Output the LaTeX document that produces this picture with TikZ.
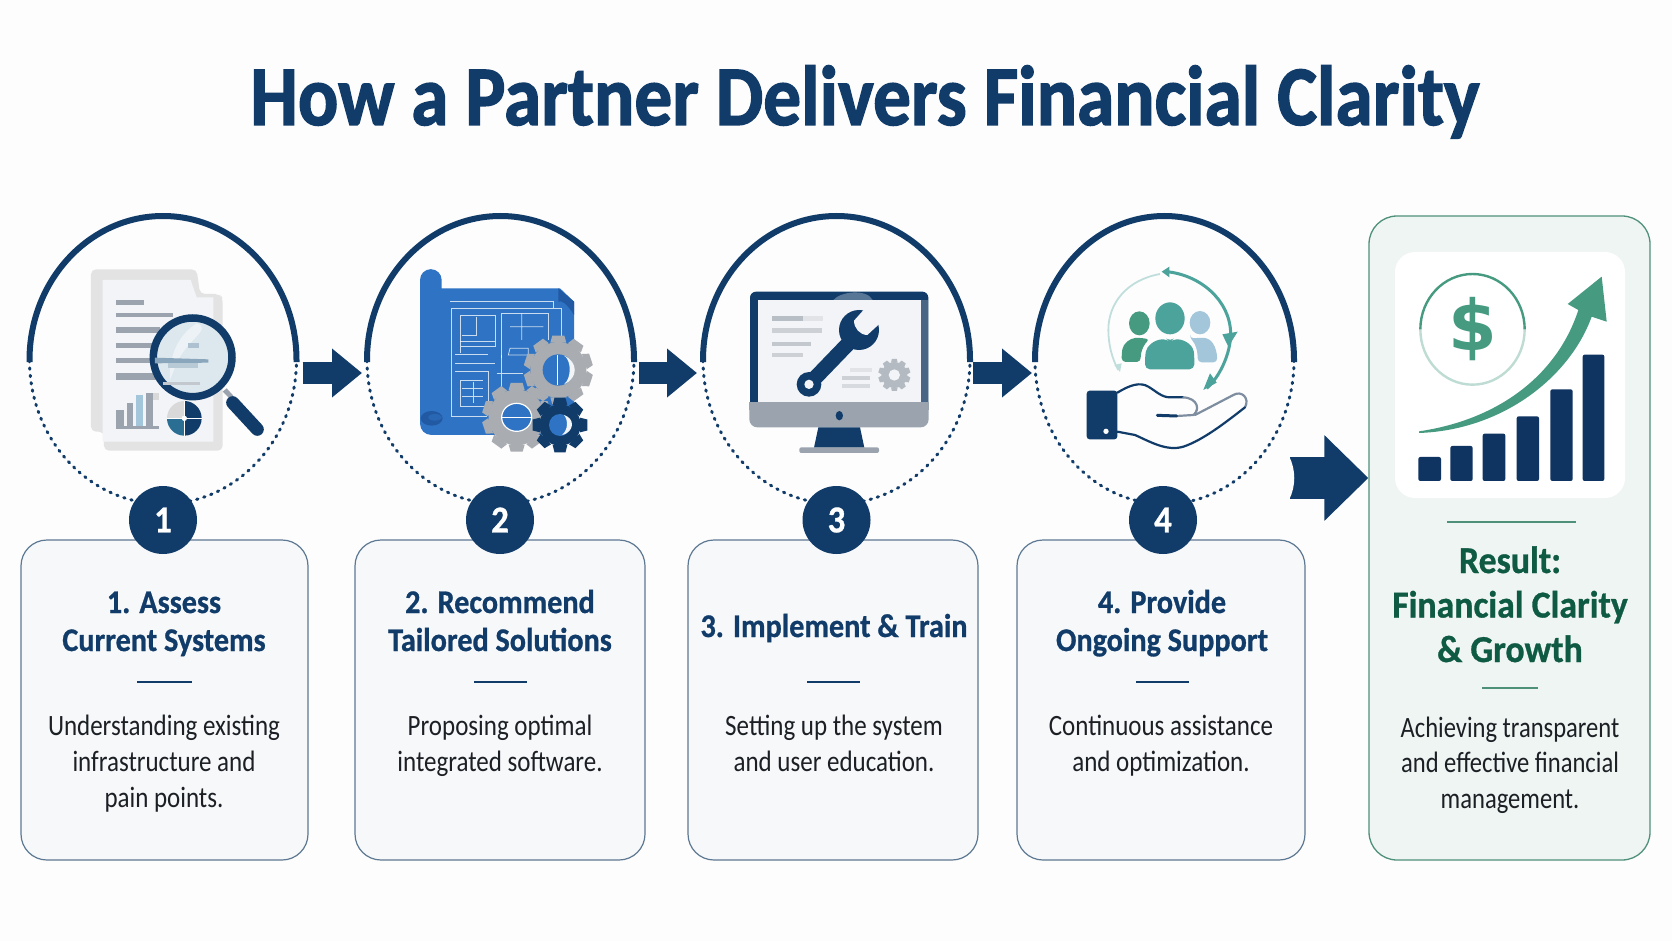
\documentclass[tikz,border=0pt]{standalone}
\usepackage{fontspec}
\usetikzlibrary{arrows.meta,shapes.geometric}
\newfontfamily\titlefont[FakeStretch=0.885,FakeBold=1.6]{Carlito}
\newfontfamily\headfont[FakeStretch=0.915,FakeBold=0.8]{Carlito}
\newfontfamily\resheadfont[FakeStretch=0.94,FakeBold=0.8]{Carlito}
\newfontfamily\bodyfont[FakeStretch=0.847]{Carlito}
\newfontfamily\resbodyfont[FakeStretch=0.833]{Carlito}
\newfontfamily\dollarfont{DejaVu Sans}
\definecolor{navy}{HTML}{113C69}
\definecolor{barnavy}{HTML}{0F3461}
\definecolor{ink}{HTML}{1C1F24}
\definecolor{pagebg}{HTML}{FDFDFD}
\definecolor{cardfill}{HTML}{F6F8FA}
\definecolor{cardline}{HTML}{5D7892}
\definecolor{resfill}{HTML}{EFF5F3}
\definecolor{resline}{HTML}{4F9079}
\definecolor{resdark}{HTML}{0F5A43}
\definecolor{mint}{HTML}{459A80}
\definecolor{teal}{HTML}{4BA39B}
\definecolor{print}{HTML}{2F74C4}
\definecolor{printdk}{HTML}{2259A3}
\definecolor{steel}{HTML}{A9ADB2}
\definecolor{paper}{HTML}{F2F4F7}
\definecolor{linegray}{HTML}{9AA3AE}
\definecolor{lensfill}{HTML}{DDE8EE}
\definecolor{lensline}{HTML}{8AA6BD}
\definecolor{paleblue}{HTML}{A3C6DA}
\definecolor{piemid}{HTML}{2B6E94}
\tikzset{
  zm/.style={x=0.33333pt,y=-0.33333pt},
  ring/.style={ellipse,draw=navy,line width=3pt,line cap=round,dash pattern=on 1.4pt off 6pt,inner sep=0pt,outer sep=0pt,minimum height=288pt},
  solidarc/.style={draw=navy,line width=6pt},
  flow/.style={draw=navy,line width=22pt,-{Triangle[length=30pt,width=47pt]}},
  flowbig/.style={draw=navy,line width=42pt,-{Triangle[length=44pt,width=83pt]}},
  badge/.style={circle,fill=navy,text=white,minimum size=68pt,inner sep=0pt,font=\headfont\bfseries\fontsize{38}{38}\selectfont},
  card/.style={rectangle,rounded corners=26pt,draw=cardline,line width=1.2pt,fill=cardfill,inner sep=0pt,minimum height=320pt},
  rescard/.style={rectangle,rounded corners=28pt,draw=resline,line width=1.3pt,fill=resfill,inner sep=0pt},
  head/.style={anchor=base,align=center,text=navy,inner sep=0pt,font=\headfont\bfseries\fontsize{33}{38}\selectfont},
  body/.style={anchor=base,align=center,text=ink,inner sep=0pt,font=\bodyfont\fontsize{29.5}{36}\selectfont},
  resbody/.style={anchor=base,align=center,text=ink,inner sep=0pt,font=\resbodyfont\fontsize{29.5}{35.5}\selectfont},
  reshead/.style={anchor=base,align=center,text=resdark,inner sep=0pt,font=\resheadfont\bfseries\fontsize{38}{44.5}\selectfont},
  rule/.style={draw=navy,line width=2pt},
  plan/.style={draw=white,line width=0.7pt,opacity=0.75},
  hand/.style={draw=navy,line width=2.2pt,line cap=round,line join=round},
}
\newcommand\gearicon[7]{%
  \begin{scope}[shift={(#1,#2)}]
    \foreach \gi in {1,...,#5}{\fill[#7,rotate=\gi*360/#5] (-#6,-#4) -- (-#6*0.75,-#3) -- (#6*0.75,-#3) -- (#6,-#4) -- cycle;}
    \fill[#7] (0,0) circle[radius=#4+2];
  \end{scope}}
\begin{document}
\begin{tikzpicture}[x=1pt,y=-1pt]
\useasboundingbox (0,0) rectangle (1672,941);
\fill[pagebg] (0,0) rectangle (1672,941);

\node[anchor=base,text=navy,inner sep=0pt,font=\titlefont\bfseries\fontsize{85}{85}\selectfont] (title) at (865,125) {How a Partner Delivers Financial Clarity};

% rings
\node[ring,minimum width=267pt] (s1) at (163,360) {};
\node[ring,minimum width=267pt] (s2) at (500.5,360) {};
\node[ring,minimum width=267pt] (s3) at (836.5,360) {};
\node[ring,minimum width=259pt] (s4) at (1164.5,360) {};
\foreach \n/\rx in {s1/133.5,s2/133.5,s3/133.5,s4/129.5}{
  \draw[solidarc] ([yshift=-2pt]\n.east) -- (\n.east) arc[start angle=0,end angle=-180,x radius=\rx,y radius=144] -- ([yshift=-2pt]\n.west);
}

% cards
\node[card,minimum width=287pt] (c1) at (164.5,700) {};
\node[card,minimum width=290pt] (c2) at (500,700) {};
\node[card,minimum width=290pt] (c3) at (833,700) {};
\node[card,minimum width=288pt] (c4) at (1161,700) {};
\node[rescard,minimum width=281pt,minimum height=644pt] (res) at (1509.5,538) {};
\node[rectangle,rounded corners=20pt,fill=white,minimum width=230pt,minimum height=246pt,inner sep=0pt] (panel) at (1510,375) {};

% badges
\node[badge] (b1) at (163,520) {1};
\node[badge] (b2) at (500,520) {2};
\node[badge] (b3) at (836.5,520) {3};
\node[badge] (b4) at (1163,520) {4};

% arrows
\draw[flow] ([shift={(6,13)}]s1.east) -- ([shift={(-5,13)}]s2.west);
\draw[flow] ([shift={(4.5,13)}]s2.east) -- ([shift={(-6,13)}]s3.west);
\draw[flow] ([shift={(3,13)}]s3.east) -- ([shift={(-3,13)}]s4.west);
\coordinate (a4s) at (1290,478);
\draw[flowbig] (a4s) -- (res.west |- a4s);
\fill[pagebg] (1289,456) .. controls (1296,470) and (1296,486) .. (1289,500) -- cycle;

% card text
\node[head] (h1) at (164,651) {1. Assess\\Current Systems};
\draw[rule] (137,682) -- (192,682);
\node[body] (t1) at (164,807) {Understanding existing\\infrastructure and\\pain points.};
\node[head] (h2) at (500,651) {2. Recommend\\Tailored Solutions};
\draw[rule] (474,682) -- (527,682);
\node[body] (t2) at (500,771) {Proposing optimal\\integrated software.};
\node[head] (h3) at (834,637) {3. Implement \& Train};
\draw[rule] (807,682) -- (860,682);
\node[body] (t3) at (834,771) {Setting up the system\\and user education.};
\node[head] (h4) at (1162,651) {4. Provide\\Ongoing Support};
\draw[rule] (1136,682) -- (1189,682);
\node[body] (t4) at (1161,771) {Continuous assistance\\and optimization.};
\draw[draw=resline,line width=1.6pt] (1447,522) -- (1576,522);
\node[reshead] (h5) at (1510,662) {Result:\\Financial Clarity\\\& Growth};
\draw[draw=resline,line width=1.6pt] (1482,688) -- (1538,688);
\node[resbody] (t5) at (1510,808) {Achieving transparent\\and effective financial\\management.};

% ---- icon 1
\begin{scope}[shift={(0,200)},zm]
\fill[gray!22,rounded corners=5pt] (312,695) -- (273,695) -- (273,208) -- (590,208) -- (600,282) -- (660,282) -- (668,295) -- (668,752) -- (312,752) -- cycle;
\fill[paper] (308,240) -- (572,240) -- (590,292) -- (640,292) -- (640,725) -- (308,725) -- cycle;
\foreach \ya/\yb/\xb in {300/316/433,340/352/520,380/398/480,428/445/460,473/490/470,520/540/470}{\fill[linegray] (348,\ya) rectangle (\xb,\yb);}
\fill[linegray] (348,630) rectangle (372,680);
\fill[linegray] (380,610) rectangle (400,680);
\fill[paleblue] (408,585) rectangle (428,680);
\fill[linegray] (438,578) rectangle (458,680);
\fill[gray!30] (458,578) rectangle (478,600);
\fill[linegray] (348,678) rectangle (478,688);
\fill[gray!30] (553,655) -- (501,655) arc[start angle=180,end angle=270,radius=52] -- cycle;
\fill[navy] (553,655) -- (553,603) arc[start angle=-90,end angle=0,radius=52] -- cycle;
\fill[navy] (553,655) -- (605,655) arc[start angle=0,end angle=90,radius=52] -- cycle;
\fill[piemid] (553,655) -- (553,707) arc[start angle=90,end angle=180,radius=52] -- cycle;
\fill[white] (553,655) circle[radius=8];
\draw[white,line width=1pt] (501,655) -- (605,655) (553,603) -- (553,707);
\fill[linegray] (668,575) -- (690,597) -- (700,587) -- (680,565) -- cycle;
\draw[navy,line width=13pt,line cap=round] (698,608) -- (772,688);
\draw[navy,line width=7.5pt,fill=lensfill] (578,472) circle[radius=118];
\fill[white,opacity=.45] (510,540) .. controls (505,450) and (550,395) .. (590,370) .. controls (640,385) and (560,420) .. (530,490) -- cycle;
\fill[lensline] (465,473) -- (625,478) -- (625,488) -- (465,490) -- cycle;
\fill[lensline!70!white] (565,428) rectangle (597,443);
\fill[linegray!60!white] (490,545) rectangle (600,555);
\fill[lensline!60!white] (505,490) rectangle (595,505);
\end{scope}

% ---- icon 2
\begin{scope}[shift={(340,200)},zm]
\fill[print] (240,240) arc[start angle=180,end angle=360,radius=32.5] -- (305,265) -- (660,265) -- (702,305) -- (702,705) -- (275,705) .. controls (255,705) and (240,690) .. (240,670) -- cycle;
\fill[printdk] (655,265) -- (702,305) -- (702,345) .. controls (680,310) and (665,300) .. (655,305) -- cycle;
\fill[printdk] (275,655) ellipse[x radius=33,y radius=22];
\fill[print!50!printdk] (285,652) ellipse[x radius=20,y radius=10];
\draw[plan] (330,305) -- (640,305) -- (640,325) (335,325) -- (665,325) -- (665,440);
\draw[plan] (335,325) -- (335,650) -- (440,650);
\draw[plan] (360,345) rectangle (465,440);
\draw[plan] (410,350) -- (410,405) -- (365,405);
\draw[plan] (360,425) -- (465,425) (360,440) -- (360,460);
\draw[plan] (345,462) -- (445,462) (345,490) -- (465,490);
\draw[plan] (485,340) -- (485,475) (485,340) -- (625,340) -- (625,420);
\draw[plan] (510,380) -- (610,380) (545,340) -- (545,420) (505,465) -- (565,465) -- (565,445) -- (510,445) -- cycle;
\draw[plan] (345,515) -- (445,515) -- (445,620) -- (360,620) -- (360,540) -- (430,540);
\draw[plan] (365,565) -- (430,565) (365,590) -- (430,590) (400,545) -- (400,610);
\draw[plan] (485,465) -- (485,560) (470,520) -- (550,520);
\gearicon{655}{510}{103}{82}{10}{24}{steel}
\fill[print] (655,510) circle[radius=47];
\draw[white,line width=1.2pt] (653,465) -- (653,555);
\fill[paper] (672,467) .. controls (695,480) and (695,535) .. (672,553) .. controls (715,535) and (715,485) .. (672,467) -- cycle;
\gearicon{530}{652}{103}{82}{10}{24}{steel}
\fill[print] (530,652) ellipse[x radius=45,y radius=42];
\draw[white,line width=1.2pt] (530,652) ellipse[x radius=45,y radius=42];
\draw[white,line width=1pt] (485,652) -- (575,652);
\gearicon{660}{675}{82}{60}{8}{22}{navy}
\fill[print] (660,675) circle[radius=33];
\fill[paper] (672,645) .. controls (685,660) and (685,690) .. (665,706) .. controls (705,695) and (705,655) .. (672,645) -- cycle;
\end{scope}

% ---- icon 3
\begin{scope}[shift={(690,200)},zm]
\fill[navy,rounded corners=6pt] (180,275) rectangle (715,625);
\fill[white,opacity=.3] (430,300) .. controls (450,275) and (530,265) .. (548,300) -- cycle;
\fill[navy!60!linegray] (692,300) rectangle (715,610);
\fill[paper] (203,300) rectangle (692,608);
\fill[linegray,rounded corners=8pt] (178,607) rectangle (716,682);
\fill[linegray] (178,607) rectangle (716,630);
\fill[navy] (448,647) ellipse[x radius=11,y radius=14];
\fill[navy] (385,682) -- (510,682) -- (523,743) -- (372,743) -- cycle;
\fill[linegray,rounded corners=2pt] (328,742) rectangle (567,759);
\fill[linegray!70!white] (245,348) rectangle (340,362);
\fill[linegray!30!white] (340,348) rectangle (400,362);
\fill[linegray!50!white] (245,385) rectangle (395,400);
\fill[linegray!60!white] (247,425) rectangle (362,438);
\fill[linegray!50!white] (247,460) rectangle (340,472);
\fill[linegray!30!white] (480,503) rectangle (545,515);
\fill[linegray!50!white] (455,528) rectangle (540,540);
\fill[linegray!40!white] (455,553) rectangle (540,565);
\gearicon{613}{525}{48}{37}{10}{10}{linegray!75!white}
\fill[paper] (613,525) circle[radius=17];
\draw[navy,line width=15pt] (357,553) -- (490,415);
\fill[navy] (507,390) circle[radius=60];
\fill[navy] (357,553) circle[radius=37];
\fill[paper] (357,553) circle[radius=14];
\fill[paper] (525,325) -- (492,362) .. controls (492,385) and (510,405) .. (532,405) -- (570,370) -- (585,320) -- cycle;
\end{scope}

% ---- icon 4
\begin{scope}[shift={(1020,200)},zm]
\draw[teal!35!white,line width=1.8pt] (420,222) .. controls (320,240) and (265,310) .. (265,390) .. controls (265,430) and (275,475) .. (295,510);
\fill[teal!35!white] (283,495) -- (305,490) -- (300,516) -- cycle;
\draw[teal,line width=3pt] (440,215) .. controls (540,225) and (630,300) .. (632,400) .. controls (632,460) and (600,530) .. (560,565);
\fill[teal] (425,215) -- (448,200) -- (448,232) -- cycle;
\fill[teal] (607,403) -- (653,395) -- (625,440) -- cycle;
\fill[teal] (550,570) -- (570,520) -- (590,548) -- cycle;
\fill[mint] (358,370) ellipse[x radius=31,y radius=36];
\fill[mint,rounded corners=4pt] (305,486) -- (305,460) .. controls (310,430) and (330,415) .. (358,413) -- (390,418) .. controls (375,430) and (362,450) .. (362,486) -- cycle;
\fill[paleblue] (540,368) ellipse[x radius=31,y radius=35];
\fill[paleblue,rounded corners=4pt] (510,416) -- (540,413) .. controls (575,415) and (590,440) .. (592,487) -- (533,487) .. controls (533,450) and (525,430) .. (510,416) -- cycle;
\fill[teal] (450,355) ellipse[x radius=44,y radius=48];
\fill[teal,rounded corners=5pt] (375,508) -- (375,470) .. controls (380,440) and (400,420) .. (440,417) -- (450,425) -- (460,417) .. controls (500,420) and (520,440) .. (523,470) -- (523,508) -- cycle;
\fill[navy,rounded corners=3pt] (200,572) rectangle (292,718);
\fill[white] (258,694) circle[radius=8];
\draw[hand] (292,578) .. controls (330,555) and (360,545) .. (385,560) .. controls (410,575) and (425,592) .. (450,592) -- (490,592);
\draw[hand,linegray!80!navy] (490,592) .. controls (535,595) and (540,630) .. (520,645) -- (470,648);
\draw[navy,line width=3pt,line cap=round] (412,646) -- (470,648);
\draw[hand,linegray!80!navy] (525,645) -- (640,585) .. controls (665,570) and (690,595) .. (675,622);
\draw[hand] (675,622) .. controls (620,665) and (550,720) .. (490,740) .. controls (440,755) and (390,725) .. (345,705) -- (292,695);
\end{scope}

% ---- result icon
\begin{scope}[shift={(1270,200)},zm]
\draw[mint!35!white,line width=2.4pt] (451,388) arc[start angle=180,end angle=0,x radius=156.5,y radius=166];
\draw[mint,line width=2.4pt] (451,388) arc[start angle=180,end angle=360,x radius=156.5,y radius=166];
\node[text=mint,inner sep=0pt,font=\dollarfont\bfseries\fontsize{70}{70}\selectfont] (dollar) at (608,388) {\$};
\foreach \xa/\xb/\yt in {445/513/771,541/608/738,638/706/701,740/807/649,841/908/568,938/1003/464}{
  \fill[barnavy,rounded corners=2pt] (\xa,\yt) rectangle (\xb,843);
}
\fill[mint] (447,694) .. controls (680,660) and (860,530) .. (925,330) -- (893,312) -- (995,230) -- (1010,365) -- (965,350) .. controls (900,530) and (700,690) .. (447,699) -- cycle;
\end{scope}
\end{tikzpicture}
\end{document}
